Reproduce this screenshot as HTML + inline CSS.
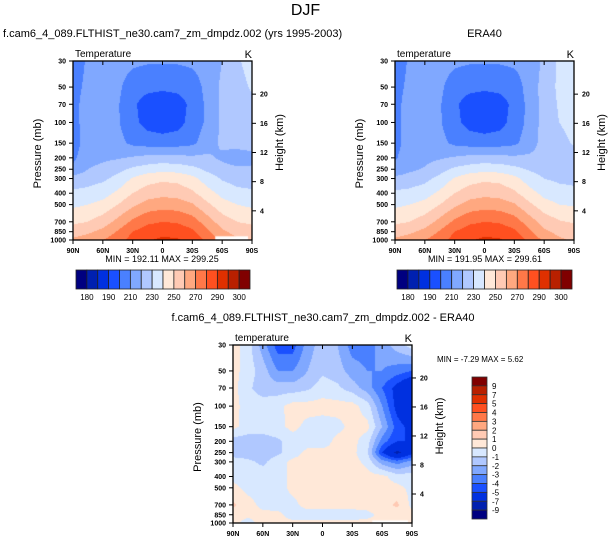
<!DOCTYPE html>
<html><head><meta charset="utf-8">
<style>
body{margin:0;background:#fff;width:611px;height:543px;overflow:hidden;position:relative;font-family:"Liberation Sans",sans-serif;color:#000}
.t{position:absolute;white-space:nowrap}
canvas{position:absolute;left:0;top:0}
svg{position:absolute;left:0;top:0}
</style></head><body>
<canvas id="cv" width="611" height="543"></canvas>
<svg id="sv" width="611" height="543"></svg>
<div class="t" style="left:0;width:611px;text-align:center;top:2px;font-size:16px">DJF</div>
<div class="t" style="left:3px;top:28px;font-size:11px">f.cam6_4_089.FLTHIST_ne30.cam7_zm_dmpdz.002 (yrs 1995-2003)</div>
<div class="t" style="left:395px;width:179px;text-align:center;top:28px;font-size:11px">ERA40</div>
<div class="t" style="left:150px;width:346px;text-align:center;top:312px;font-size:11px">f.cam6_4_089.FLTHIST_ne30.cam7_zm_dmpdz.002 - ERA40</div>
<script>
const pressures=[1000,850,700,500,400,300,250,200,150,100,70,50,30];
const lats=[90,75,60,45,30,15,0,-15,-30,-45,-60,-75,-90];
const modelT=[
[262,265,270,276,284,289,292,291,286,278,268,262,258],
[255,258,263,271,280,285,287,286,282,272,262,256,255],
[248,250,255,263,272,278,280,279,275,265,255,250,248],
[238,240,243,250,258,264,266,265,261,252,244,240,238],
[232,233,236,242,250,255,257,256,252,244,237,233,232],
[224,226,228,233,241,246,248,247,243,235,229,226,225],
[212,220,223,227,232,235,237,236,233,228,224,222,222],
[208,216,218,219,221,223,224,223,222,222,218,214,216],
[206,214,216,213,208,206,205,206,208,215,222,224,225],
[207,214,215,211,203,196,194,196,204,212,222,225,226],
[207,214,215,211,202,195,193,195,203,212,222,226,228],
[207,212,214,212,205,203,202,203,205,213,222,227,231],
[206,211,214,214,212,211,211,211,212,214,220,229,233]];
const eraT=[
[262,265,270,276,284,289,292,291,286,278,268,262,258],
[255,258,263,271,280,285,287,286,282,272,262,257,256],
[248,250,255,263,272,278,280,279,275,265,256,251,249],
[238,240,243,250,258,264,266,265,261,252,244,240,239],
[232,233,236,242,250,255,257,256,252,244,237,234,233],
[222,224,227,233,241,246,248,247,243,235,230,228,227],
[214,218,221,226,232,235,237,236,233,229,226,225,225],
[209,215,217,219,221,223,224,223,222,222,223,224,225],
[207,214,216,213,208,206,205,206,208,215,224,227,231],
[207,214,215,211,203,196,194,196,204,213,224,230,233],
[207,214,215,211,202,195,193,195,203,213,224,231,234],
[207,212,214,212,205,203,202,203,205,214,224,232,235],
[206,211,214,214,212,211,211,211,212,214,222,232,236]];
const diffT=[
[0.4,-0.5,0.5,0.3,0.3,0.3,0.3,0.3,0.3,0.3,0.3,0.3,0.3],
[0.4,0.3,0.3,0.3,-0.5,-0.5,-0.5,-0.5,-0.5,-0.3,0.3,0.3,0.3],
[1.2,0.4,-0.3,-0.5,-0.3,0.4,0.4,0.4,0.4,0.4,0.6,1.2,-0.3],
[0.3,-0.3,-0.5,-0.5,0.3,0.4,0.4,0.4,0.4,0.4,0.4,0.3,-0.3],
[-0.3,-0.5,-0.5,-0.5,0.3,0.4,0.4,0.4,0.6,0.4,0.3,-0.5,-0.5],
[-0.5,-0.8,-1.2,-0.5,0.3,0.4,0.4,0.4,0.4,-0.3,-2.5,-3.5,-2.5],
[-1.5,-1.5,-1.5,-1.2,-0.5,0.3,0.3,0.3,0.3,-0.8,-5,-7.5,-5.5],
[-1.5,-1.5,-1.5,-1.2,-0.5,-0.5,-0.5,0.3,0.3,-0.5,-3.5,-5,-5],
[0.3,-0.5,-0.5,-0.3,0.3,-0.3,-0.5,-0.3,0.3,0.3,-2,-4.5,-5.5],
[0.4,-0.5,-0.5,-0.3,0.4,0.4,0.4,0.4,0.4,-0.5,-3,-5.5,-6.5],
[0.4,-0.8,-1.5,-1.5,-1.5,-1.2,-0.5,-0.8,-1.5,-2.5,-4,-5.5,-7],
[0.4,-0.5,-1.5,-3,-3,-2,-1.2,-1.5,-2.5,-3,-3,-3.5,-4],
[0.4,-0.5,-2.5,-4.5,-4.5,-2.5,-1.5,-2,-3.5,-3.5,-2.5,-1.5,-0.5]];
const tLevels=[180,185,190,200,210,220,230,240,250,260,270,280,290,295,300];
const tLabels=["180","190","210","230","250","270","290","300"];
const dLevels=[-9,-7,-5,-4,-3,-2,-1,0,1,2,3,4,5,7,9];
const dLabels=["9","7","5","4","3","2","1","0","-1","-2","-3","-4","-5","-7","-9"];
const pTicks=[30,50,70,100,150,200,250,300,400,500,700,850,1000];
const hTicks=[4,8,12,16,20];
const latTicks=["90N","60N","30N","0","30S","60S","90S"];
const palette=["#000080","#0020b0","#0030e0","#1a50ff","#4a80ff","#80a8ff","#b0c8ff","#d8e8ff","#ffe8d8","#ffcab4","#ffa880","#ff7848","#ff5020","#e03000","#b82000","#800000"];

const NS="http://www.w3.org/2000/svg";
const sv=document.getElementById('sv');
const ctx=document.getElementById('cv').getContext('2d');
function mk(tag,attrs,parent){const e=document.createElementNS(NS,tag);for(const k in attrs)e.setAttribute(k,attrs[k]);(parent||sv).appendChild(e);return e;}
function levelIndex(v,lev){let i=0;while(i<lev.length&&v>=lev[i])i++;return i;}
const lps=pressures.map(p=>Math.log10(p));
function sample(field,fx,lp){
  let r=0;while(r<lps.length-2&&lp<lps[r+1])r++;
  let tr=(lps[r]-lp)/(lps[r]-lps[r+1]);tr=Math.max(0,Math.min(1,tr));
  let c=Math.min(Math.floor(fx),lats.length-2);let tc=fx-c;
  const a=field[r][c]*(1-tc)+field[r][c+1]*tc;
  const b=field[r+1][c]*(1-tc)+field[r+1][c+1]*tc;
  return a*(1-tr)+b*tr;
}
function panel(P,field,lev,name,sub,mask){
  const W=P.x1-P.x0,H=P.y1-P.y0;
  const xS=lat=>P.x0+(90-lat)/180*W;
  const yS=p=>P.y0+Math.log10(p/30)/Math.log10(1000/30)*H;
  for(let y=P.y0;y<P.y1;y++){
    const p=30*Math.pow(1000/30,(y+0.5-P.y0)/H);
    const lp=Math.log10(p);
    for(let x=P.x0;x<P.x1;x++){
      const lat=90-(x+0.5-P.x0)/W*180;
      const v=sample(field,(90-lat)/15,lp);
      ctx.fillStyle=palette[levelIndex(v,lev)];
      ctx.fillRect(x,y,1,1);
    }
  }
  if(mask){ctx.fillStyle="#fff";ctx.fillRect(xS(mask[0]),yS(mask[2]),xS(mask[1])-xS(mask[0]),P.y1-yS(mask[2]));}
  const g=mk('g',{});
  
  
  const fr=mk('rect',{x:P.x0,y:P.y0,width:W,height:H,fill:'none',stroke:'#000','stroke-width':1.3},g);
  
  
  pTicks.forEach(p=>{const y=yS(p);
    mk('line',{x1:P.x0-4,x2:P.x0,y1:y,y2:y,stroke:'#000'},g);
    const t=mk('text',{x:P.x0-7,y:y+2.5,'font-size':7,'text-anchor':'end','font-weight':'bold','font-family':'Liberation Sans'},g);
    t.textContent=p;
    
    
  });
  hTicks.forEach(h=>{const p=1000*Math.exp(-h/7);const y=yS(p);
    mk('line',{x1:P.x1,x2:P.x1+4,y1:y,y2:y,stroke:'#000'},g);
    const t=mk('text',{x:P.x1+8,y:y+2.5,'font-size':7,'font-weight':'bold','font-family':'Liberation Sans'},g);
    t.textContent=h;
    
    
  });
  latTicks.forEach((l,i)=>{const x=P.x0+i*W/6;
    mk('line',{x1:x,x2:x,y1:P.y1,y2:P.y1+4,stroke:'#000'},g);
    mk('line',{x1:x,x2:x,y1:P.y0,y2:P.y0+4,stroke:'#000'},g);
    const t=mk('text',{x:x,y:P.y1+13,'font-size':7,'text-anchor':'middle','font-weight':'bold','font-family':'Liberation Sans'},g);
    t.textContent=l;
    
    
  });
  const yl=mk('text',{x:0,y:0,'font-size':11,'text-anchor':'middle','font-family':'Liberation Sans',transform:`translate(${P.x0-32},${(P.y0+P.y1)/2+3}) rotate(-90)`},g);
  yl.textContent='Pressure (mb)';
  
  
  const hl=mk('text',{x:0,y:0,'font-size':11,'text-anchor':'middle','font-family':'Liberation Sans',transform:`translate(${P.x1+31},${(P.y0+P.y1)/2-8}) rotate(-90)`},g);
  hl.textContent='Height (km)';
  
  
  const s=mk('text',{x:P.x0+2,y:P.y0-4,'font-size':10,'font-family':'Liberation Sans'},g);
  s.textContent=sub;
  
  
  const k=mk('text',{x:P.x1,y:P.y0-3,'font-size':11,'text-anchor':'end','font-family':'Liberation Sans'},g);
  k.textContent='K';
  
  
}
function hbar(x0,x1,y0,y1,name){
  const g=mk('g',{});
  
  
  const w=(x1-x0)/palette.length;
  palette.forEach((c,i)=>{const r=mk('rect',{x:x0+i*w,y:y0,width:w,height:y1-y0,fill:c,stroke:'#222','stroke-width':0.8},g);
    
    });
  tLabels.forEach((l,i)=>{const t=mk('text',{x:x0+(2*i+1)*w,y:y1+11,'font-size':8,'text-anchor':'middle','font-family':'Liberation Sans'},g);
    t.textContent=l;
    
    });
}
const P1={x0:73,x1:252,y0:61,y1:240},P2={x0:395,x1:574,y0:61,y1:240},P3={x0:233,x1:412,y0:345,y1:523};
panel(P1,modelT,tLevels,'model-panel','Temperature',[-53,-86,930]);
panel(P2,eraT,tLevels,'era40-panel','temperature',null);
panel(P3,diffT,dLevels,'diff-panel','temperature',[-50,-86,950]);
function txt(x,y,s,sz,anchor,nm){const t=mk('text',{x:x,y:y,'font-size':sz,'text-anchor':anchor||'start','font-family':'Liberation Sans'});t.textContent=s;
  
  }
txt(162,262,'MIN = 192.11  MAX = 299.25',9,'middle','model-minmax');
txt(485,262,'MIN = 191.95  MAX = 299.61',9,'middle','era40-minmax');
txt(437,362,'MIN = -7.29  MAX =  5.62',8,'start','diff-minmax');
hbar(76,250,270,289,'model-colorbar');
hbar(397,572,270,289,'era40-colorbar');
(function(){const g=mk('g',{});
  
  
  const y0=377,y1=519,h=(y1-y0)/palette.length;
  palette.slice().reverse().forEach((c,i)=>{const r=mk('rect',{x:472,y:y0+i*h,width:15,height:h,fill:c,stroke:'#333','stroke-width':0.8},g);
    
    });
  dLabels.forEach((l,i)=>{const t=mk('text',{x:492,y:y0+(i+1)*h+3,'font-size':8,'font-family':'Liberation Sans'},g);
    t.textContent=l;
    
    });
})();
</script>
</body></html>
